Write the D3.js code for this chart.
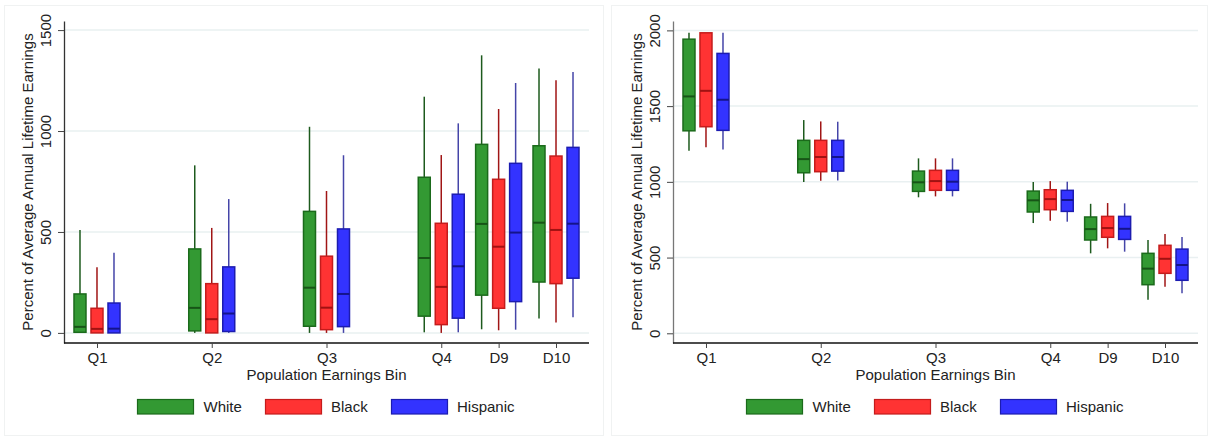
<!DOCTYPE html>
<html>
<head>
<meta charset="utf-8">
<script src="https://cdn.jsdelivr.net/npm/d3@7"></script>
<style>
  html, body { margin: 0; padding: 0; background: #fff; }
  svg { display: block; font-family: Arial, "Liberation Sans", sans-serif; }
</style>
</head>
<body>
<svg id="chart" width="1212" height="440"></svg>
<script>
// ---- Data ----
const bins = ["Q1", "Q2", "Q3", "Q4", "D9", "D10"];
const binPos = [1, 2, 3, 4, 4.5, 5];
const groups = ["White", "Black", "Hispanic"];
const yTicksLeft = [0, 500, 1000, 1500];
const yTicksRight = [0, 500, 1000, 1500, 2000];
const yTitle = "Percent of Average Annual Lifetime Earnings";
const xTitle = "Population Earnings Bin";

// [lower whisker, Q1, median, Q3, upper whisker]
const leftWhite = [[0, 3, 30, 193, 510], [0, 10, 124, 416, 830], [0, 33, 224, 602, 1021],
                   [3, 83, 371, 771, 1170], [18, 187, 540, 934, 1375], [71, 252, 546, 927, 1310]];
const leftBlack = [[0, 0, 20, 122, 325], [0, 0, 68, 244, 520], [0, 16, 125, 380, 703],
                   [0, 41, 228, 543, 881], [13, 122, 427, 761, 1109], [51, 244, 510, 876, 1251]];
const leftHispanic = [[0, 0, 21, 148, 397], [0, 7, 96, 327, 663], [0, 31, 193, 515, 880],
                      [3, 73, 330, 687, 1038], [16, 155, 497, 840, 1238], [78, 271, 541, 919, 1292]];

const rightWhite = [[1205, 1337, 1564, 1942, 1984], [999, 1060, 1150, 1274, 1408], [898, 937, 997, 1071, 1155],
                    [728, 801, 878, 939, 999], [528, 616, 688, 768, 855], [222, 321, 427, 528, 616]];
const rightBlack = [[1228, 1364, 1601, 1984, 1984], [1007, 1067, 1164, 1274, 1399], [904, 944, 1005, 1076, 1155],
                    [743, 816, 886, 948, 1005], [561, 634, 695, 772, 860], [308, 396, 492, 581, 655]];
const rightHispanic = [[1214, 1340, 1542, 1848, 1984], [1009, 1071, 1164, 1274, 1397], [904, 944, 1001, 1076, 1155],
                       [737, 805, 880, 944, 1001], [539, 620, 690, 772, 858], [264, 350, 451, 556, 636]];

// ---- Styles ----
const fills = ["#339933", "#ff3333", "#3333ff"];
const strokes = ["#1b6a1b", "#c41c1c", "#1c1cb0"];
const medians = ["#175417", "#a01212", "#14148a"];
const whiskers = ["#1d5a1d", "#a01515", "#4545a8"];
const offsets = [-17, 0, 17];
const boxW = 12;

const svg = d3.select("#chart");

// faint outer frames
svg.append("rect").attr("x", 4.5).attr("y", 5.5).attr("width", 599).attr("height", 430)
  .attr("fill", "none").attr("stroke", "#f0f2f2");
svg.append("rect").attr("x", 611.5).attr("y", 5.5).attr("width", 596).attr("height", 430)
  .attr("fill", "none").attr("stroke", "#f0f2f2");

function drawPanel(cfg) {
  const g = svg.append("g");
  const x = d3.scaleLinear().domain([0.7125, 5.2875]).range([cfg.left, cfg.right]);
  const y = d3.scaleLinear().domain(cfg.yDomain).range([343, 21]);

  // grid
  g.selectAll(".grid").data(cfg.yTicks).enter().append("line")
    .attr("x1", cfg.left).attr("x2", cfg.right)
    .attr("y1", d => y(d)).attr("y2", d => y(d))
    .attr("stroke", "#e9f0f1").attr("stroke-width", 1.5);

  // y axis
  const ya = g.append("g").attr("transform", `translate(${cfg.left},0)`)
    .call(d3.axisLeft(y).tickValues(cfg.yTicks).tickSize(6).tickSizeOuter(0).tickFormat(d3.format("d")));
  ya.select(".domain").attr("stroke", cfg.yAxisColor).attr("stroke-width", 1.3);
  ya.selectAll(".tick line").attr("stroke", "#444");
  ya.selectAll(".tick text")
    .attr("transform", "rotate(-90)")
    .attr("x", 0).attr("y", -13.5)
    .attr("dy", 0)
    .attr("text-anchor", "middle")
    .attr("font-size", 15).attr("fill", "#222")
    .attr("font-family", "Arial, 'Liberation Sans', sans-serif");

  // x axis
  const xa = g.append("g").attr("transform", "translate(0,343)")
    .call(d3.axisBottom(x).tickValues(binPos).tickSize(5).tickSizeOuter(0)
      .tickFormat((d, i) => bins[i]));
  xa.select(".domain").attr("stroke", "#111").attr("stroke-width", 1.3)
    .attr("d", `M${cfg.left},0H${cfg.right}`);
  xa.selectAll(".tick line").attr("stroke", "#444");
  xa.selectAll(".tick text").attr("y", 20.3).attr("dy", 0)
    .attr("font-size", 15).attr("fill", "#222")
    .attr("font-family", "Arial, 'Liberation Sans', sans-serif");

  // titles
  g.append("text")
    .attr("transform", `translate(${cfg.left - 31},${(21 + 343) / 2}) rotate(-90)`)
    .attr("text-anchor", "middle").attr("font-size", 15).attr("fill", "#222")
    .text(yTitle);
  const cx = (cfg.left + cfg.right) / 2;
  g.append("text").attr("x", cx).attr("y", 380)
    .attr("text-anchor", "middle").attr("font-size", 15).attr("fill", "#222")
    .text(xTitle);

  // boxes
  cfg.series.forEach((ser, gi) => {
    const sg = g.append("g");
    ser.forEach((s, i) => {
      const xc = x(binPos[i]) + offsets[gi];
      const [lo, q1, med, q3, hi] = s;
      sg.append("line").attr("x1", xc).attr("x2", xc).attr("y1", y(hi)).attr("y2", y(q3))
        .attr("stroke", whiskers[gi]).attr("stroke-width", 1.5);
      sg.append("line").attr("x1", xc).attr("x2", xc).attr("y1", y(q1)).attr("y2", y(lo))
        .attr("stroke", whiskers[gi]).attr("stroke-width", 1.5);
      sg.append("rect").attr("x", xc - boxW / 2).attr("width", boxW)
        .attr("y", y(q3)).attr("height", Math.max(0.5, y(q1) - y(q3)))
        .attr("fill", fills[gi]).attr("stroke", strokes[gi]).attr("stroke-width", 1.5);
      sg.append("line").attr("x1", xc - boxW / 2).attr("x2", xc + boxW / 2)
        .attr("y1", y(med)).attr("y2", y(med))
        .attr("stroke", medians[gi]).attr("stroke-width", 2);
    });
  });

  // legend
  const swX = [-189, -61, 65];
  const txX = [-123, 4.5, 130.5];
  groups.forEach((name, gi) => {
    g.append("rect").attr("x", cx + swX[gi]).attr("y", 399.5).attr("width", 56).attr("height", 14.5)
      .attr("fill", fills[gi]).attr("stroke", strokes[gi]).attr("stroke-width", 1.2);
    g.append("text").attr("x", cx + txX[gi]).attr("y", 412)
      .attr("font-size", 15).attr("fill", "#222").text(name);
  });
}

drawPanel({
  left: 64, right: 589, yDomain: [-50, 1545], yTicks: yTicksLeft, yAxisColor: "#333",
  series: [leftWhite, leftBlack, leftHispanic]
});
drawPanel({
  left: 673, right: 1198, yDomain: [-64, 2062], yTicks: yTicksRight, yAxisColor: "#777",
  series: [rightWhite, rightBlack, rightHispanic]
});
</script>
</body>
</html>
